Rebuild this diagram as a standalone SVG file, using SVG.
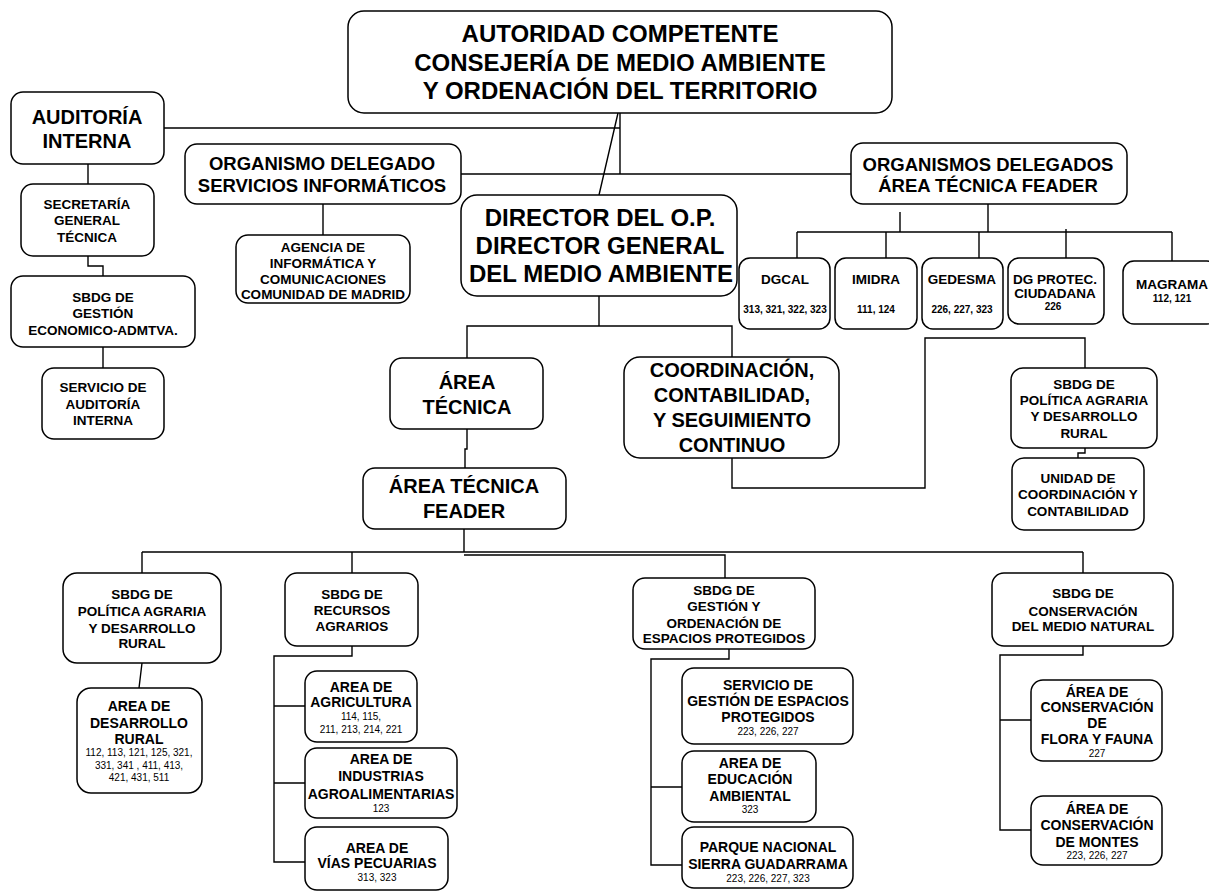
<svg xmlns="http://www.w3.org/2000/svg" width="1209" height="892" viewBox="0 0 1209 892">
<style>
.bx{fill:#fff;stroke:#000;stroke-width:1.5}
.ln{fill:none;stroke:#000;stroke-width:1.4}
text{font-family:"Liberation Sans",Arial,sans-serif;font-weight:bold;text-anchor:middle;fill:#000}
.f24{font-size:24px}.f20{font-size:20px}.f18{font-size:18.5px}.f14{font-size:14px}.f13{font-size:13.5px}
.n10{font-size:10px;font-weight:normal}.nb{font-size:10px}
</style>
<rect width="1209" height="892" fill="#fff"/>
<g id="connectors">
<path class="ln" d="M164,128 H620 M620,113 V174 M461,174 H851 M618,113 L599,195"/>
<path class="ln" d="M88,164 V184 M88,256 V266 H103 V276 M103,347 V368 M323,204 V235"/>
<path class="ln" d="M988,204 V232 M900,212 V232 M797,232 H1172 M797,232 V258 M886,232 V258 M979,232 V258 M1066,229 V258 M1172,232 V261"/>
<path class="ln" d="M599,296 V326 M467,358 V326 H732 V357 M467,429 V449 H465 V468"/>
<path class="ln" d="M732,458 V488 H925 V338 H1085 V368 M1085,448 V453 H1078 V458"/>
<path class="ln" d="M464,529 V552 M142,552 H1083 M142,552 V573 M352,552 V573 M1083,552 V573 M464,555 H725 V578 M142,663 L139,688"/>
<path class="ln" d="M352,646 V656 H274 V862 H305 M274,706 H305 M274,783 H305"/>
<path class="ln" d="M729,649 V659 H651 V865 H682 M651,787 H682"/>
<path class="ln" d="M1083,646 V655 H1000 V830 H1031 M1000,720 H1031"/>
</g>
<g id="autoridad"><rect class="bx" x="348" y="11" width="544" height="102" rx="16"/>
<text class="f24" x="620" y="42">AUTORIDAD COMPETENTE</text><text class="f24" x="620" y="71">CONSEJERÍA DE MEDIO AMBIENTE</text><text class="f24" x="620" y="99">Y ORDENACIÓN DEL TERRITORIO</text></g>
<g id="auditoria"><rect class="bx" x="11" y="92" width="153" height="72" rx="12"/>
<text class="f20" x="87" y="124">AUDITORÍA</text><text class="f20" x="87" y="148">INTERNA</text></g>
<g id="secretaria"><rect class="bx" x="21" y="184" width="133" height="72" rx="12"/>
<text class="f13" x="87" y="209">SECRETARÍA</text><text class="f13" x="87" y="225">GENERAL</text><text class="f13" x="87" y="242">TÉCNICA</text></g>
<g id="sbdg-gestion-eco"><rect class="bx" x="11" y="276" width="184" height="71" rx="12"/>
<text class="f13" x="103" y="302">SBDG DE</text><text class="f13" x="103" y="318">GESTIÓN</text><text class="f13" x="103" y="335">ECONOMICO-ADMTVA.</text></g>
<g id="servicio-auditoria"><rect class="bx" x="42" y="368" width="122" height="71" rx="12"/>
<text class="f13" x="103" y="392">SERVICIO DE</text><text class="f13" x="103" y="409">AUDITORÍA</text><text class="f13" x="103" y="425">INTERNA</text></g>
<g id="org-delegado"><rect class="bx" x="185" y="144" width="276" height="60" rx="12"/>
<text class="f18" x="322" y="170">ORGANISMO DELEGADO</text><text class="f18" x="322" y="192">SERVICIOS INFORMÁTICOS</text></g>
<g id="agencia"><rect class="bx" x="236" y="235" width="174" height="68" rx="12"/>
<text class="f13" x="323" y="252">AGENCIA DE</text><text class="f13" x="323" y="268">INFORMÁTICA Y</text><text class="f13" x="323" y="284">COMUNICACIONES</text><text class="f13" x="323" y="299">COMUNIDAD DE MADRID</text></g>
<g id="director"><rect class="bx" x="461" y="195" width="276" height="101" rx="16"/>
<text class="f24" x="600" y="226">DIRECTOR DEL O.P.</text><text class="f24" x="600" y="254">DIRECTOR GENERAL</text><text class="f24" x="601" y="282">DEL MEDIO AMBIENTE</text></g>
<g id="org-delegados-feader"><rect class="bx" x="851" y="143" width="276" height="61" rx="12"/>
<text class="f18" x="988" y="171">ORGANISMOS DELEGADOS</text><text class="f18" x="988" y="192">ÁREA TÉCNICA FEADER</text></g>
<g id="dgcal"><rect class="bx" x="739" y="258" width="91" height="71" rx="11"/>
<text class="f13" x="785" y="284">DGCAL</text><text class="nb" x="785" y="313">313, 321, 322, 323</text></g>
<g id="imidra"><rect class="bx" x="835" y="258" width="82" height="71" rx="11"/>
<text class="f13" x="876" y="284">IMIDRA</text><text class="nb" x="876" y="313">111, 124</text></g>
<g id="gedesma"><rect class="bx" x="922" y="258" width="81" height="71" rx="11"/>
<text class="f13" x="962" y="284">GEDESMA</text><text class="nb" x="962" y="313">226, 227, 323</text></g>
<g id="dgprotec"><rect class="bx" x="1008" y="258" width="96" height="66" rx="11"/>
<text class="f13" x="1055" y="284">DG PROTEC.</text><text class="f13" x="1055" y="298">CIUDADANA</text><text class="nb" x="1053" y="310">226</text></g>
<g id="magrama"><rect class="bx" x="1123" y="261" width="95" height="63" rx="11"/>
<text class="f13" x="1172" y="289">MAGRAMA</text><text class="nb" x="1172" y="302">112, 121</text></g>
<g id="area-tecnica"><rect class="bx" x="390" y="358" width="153" height="71" rx="12"/>
<text class="f20" x="467" y="389">ÁREA</text><text class="f20" x="467" y="414">TÉCNICA</text></g>
<g id="coordinacion"><rect class="bx" x="624" y="357" width="215" height="101" rx="16"/>
<text class="f20" x="732" y="377">COORDINACIÓN,</text><text class="f20" x="732" y="402">CONTABILIDAD,</text><text class="f20" x="732" y="427">Y SEGUIMIENTO</text><text class="f20" x="732" y="452">CONTINUO</text></g>
<g id="sbdg-politica-r"><rect class="bx" x="1011" y="368" width="146" height="80" rx="12"/>
<text class="f13" x="1084" y="389">SBDG DE</text><text class="f13" x="1084" y="405">POLÍTICA AGRARIA</text><text class="f13" x="1084" y="421">Y DESARROLLO</text><text class="f13" x="1084" y="438">RURAL</text></g>
<g id="unidad"><rect class="bx" x="1012" y="458" width="132" height="72" rx="12"/>
<text class="f13" x="1078" y="483">UNIDAD DE</text><text class="f13" x="1078" y="499">COORDINACIÓN Y</text><text class="f13" x="1078" y="516">CONTABILIDAD</text></g>
<g id="area-tecnica-feader"><rect class="bx" x="363" y="468" width="203" height="61" rx="12"/>
<text class="f20" x="464" y="493">ÁREA TÉCNICA</text><text class="f20" x="464" y="518">FEADER</text></g>
<g id="sbdg-politica"><rect class="bx" x="63" y="573" width="158" height="90" rx="14"/>
<text class="f13" x="142" y="599">SBDG DE</text><text class="f13" x="142" y="616">POLÍTICA AGRARIA</text><text class="f13" x="142" y="633">Y DESARROLLO</text><text class="f13" x="142" y="648">RURAL</text></g>
<g id="desarrollo-rural"><rect class="bx" x="77" y="688" width="125" height="105" rx="14"/>
<text class="f14" x="139" y="711">AREA DE</text><text class="f14" x="139" y="728">DESARROLLO</text><text class="f14" x="139" y="744">RURAL</text>
<text class="n10" x="139" y="756">112, 113, 121, 125,  321,</text><text class="n10" x="139" y="769">331, 341 , 411, 413,</text><text class="n10" x="139" y="781">421, 431, 511</text></g>
<g id="sbdg-recursos"><rect class="bx" x="285" y="573" width="133" height="73" rx="12"/>
<text class="f13" x="352" y="599">SBDG DE</text><text class="f13" x="352" y="615">RECURSOS</text><text class="f13" x="352" y="631">AGRARIOS</text></g>
<g id="agricultura"><rect class="bx" x="305" y="671" width="112" height="71" rx="12"/>
<text class="f14" x="361" y="692">AREA DE</text><text class="f14" x="361" y="707">AGRICULTURA</text><text class="n10" x="361" y="720">114, 115,</text><text class="n10" x="361" y="733">211, 213, 214, 221</text></g>
<g id="industrias"><rect class="bx" x="305" y="748" width="152" height="70" rx="12"/>
<text class="f14" x="381" y="764">AREA DE</text><text class="f14" x="381" y="781">INDUSTRIAS</text><text class="f14" x="381" y="799">AGROALIMENTARIAS</text><text class="n10" x="381" y="812">123</text></g>
<g id="vias"><rect class="bx" x="305" y="827" width="143" height="63" rx="12"/>
<text class="f14" x="377" y="853">AREA DE</text><text class="f14" x="377" y="868">VÍAS PECUARIAS</text><text class="n10" x="377" y="881">313, 323</text></g>
<g id="sbdg-espacios"><rect class="bx" x="633" y="578" width="182" height="71" rx="12"/>
<text class="f13" x="724" y="595">SBDG DE</text><text class="f13" x="724" y="611">GESTIÓN Y</text><text class="f13" x="724" y="628">ORDENACIÓN DE</text><text class="f13" x="724" y="643">ESPACIOS PROTEGIDOS</text></g>
<g id="servicio-espacios"><rect class="bx" x="682" y="668" width="171" height="76" rx="12"/>
<text class="f14" x="768" y="690">SERVICIO DE</text><text class="f14" x="768" y="706">GESTIÓN DE ESPACIOS</text><text class="f14" x="768" y="722">PROTEGIDOS</text><text class="n10" x="768" y="735">223, 226, 227</text></g>
<g id="educacion"><rect class="bx" x="682" y="751" width="134" height="71" rx="12"/>
<text class="f14" x="750" y="768">AREA DE</text><text class="f14" x="750" y="784">EDUCACIÓN</text><text class="f14" x="750" y="801">AMBIENTAL</text><text class="n10" x="750" y="813">323</text></g>
<g id="parque"><rect class="bx" x="682" y="827" width="171" height="61" rx="12"/>
<text class="f14" x="768" y="852">PARQUE NACIONAL</text><text class="f14" x="768" y="869">SIERRA GUADARRAMA</text><text class="n10" x="768" y="882">223, 226, 227, 323</text></g>
<g id="sbdg-conservacion"><rect class="bx" x="992" y="573" width="181" height="73" rx="12"/>
<text class="f13" x="1083" y="598">SBDG DE</text><text class="f13" x="1083" y="616">CONSERVACIÓN</text><text class="f13" x="1083" y="631">DEL MEDIO NATURAL</text></g>
<g id="flora-fauna"><rect class="bx" x="1031" y="680" width="131" height="81" rx="12"/>
<text class="f14" x="1097" y="697">ÁREA DE</text><text class="f14" x="1097" y="712">CONSERVACIÓN</text><text class="f14" x="1097" y="728">DE</text><text class="f14" x="1097" y="744">FLORA Y FAUNA</text><text class="n10" x="1097" y="757">227</text></g>
<g id="montes"><rect class="bx" x="1031" y="796" width="131" height="69" rx="12"/>
<text class="f14" x="1097" y="814">ÁREA DE</text><text class="f14" x="1097" y="830">CONSERVACIÓN</text><text class="f14" x="1097" y="847">DE MONTES</text><text class="n10" x="1097" y="859">223, 226, 227</text></g>
</svg>
